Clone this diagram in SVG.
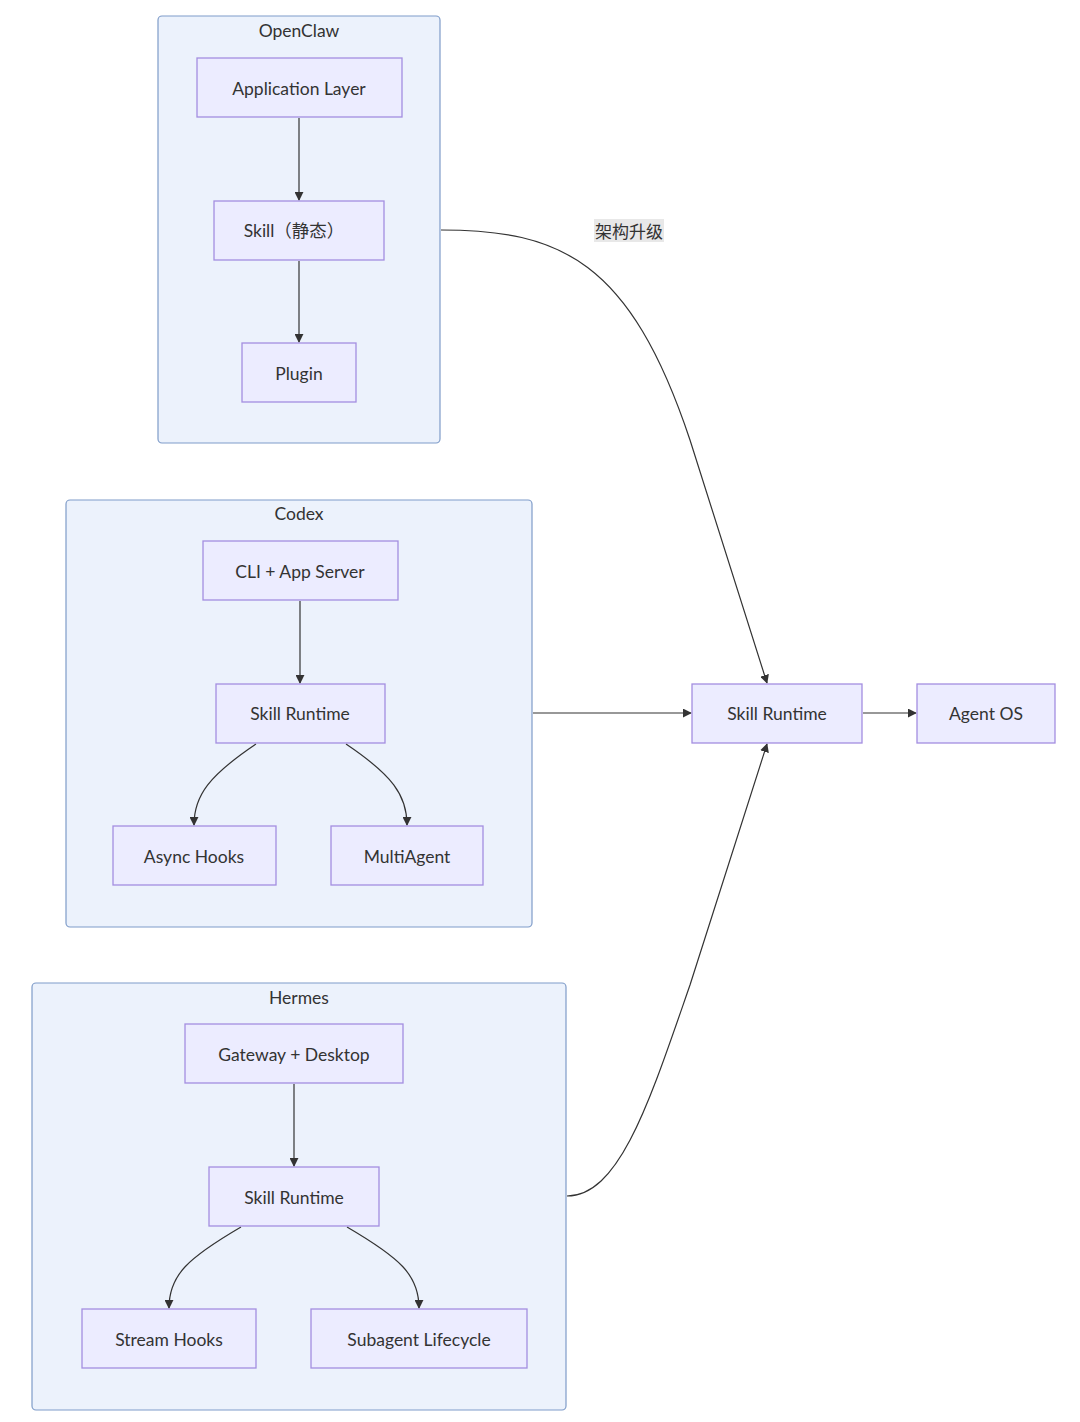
<svg xmlns="http://www.w3.org/2000/svg" width="1080" height="1422" viewBox="0 0 1080 1422">
<style>
.cl{fill:#ecf2fc;stroke:#7f9cc9;stroke-width:1.2}
.nd{fill:#ececff;stroke:#a48ee0;stroke-width:1.3}
.t{font-family:"Lato","Noto Sans",sans-serif;font-size:17.5px;fill:#333;text-anchor:middle;dominant-baseline:central}
.e{fill:none;stroke:#333;stroke-width:1.2}
</style>
<defs>
<marker id="ah" viewBox="0 0 10 10" refX="9" refY="5" markerWidth="9" markerHeight="9" orient="auto-start-reverse" markerUnits="userSpaceOnUse">
<path d="M0,0 L10,5 L0,10 z" fill="#333"/>
</marker>
</defs>
<rect width="1080" height="1422" fill="#fff"/>
<g id="clusters">
<g id="cluster-openclaw"><rect class="cl" x="158" y="16" width="282" height="427" rx="4"/><text class="t" x="299" y="30">OpenClaw</text></g>
<g id="cluster-codex"><rect class="cl" x="66" y="500" width="466" height="427" rx="4"/><text class="t" x="299" y="513">Codex</text></g>
<g id="cluster-hermes"><rect class="cl" x="32" y="983" width="534" height="427" rx="4"/><text class="t" x="299" y="997">Hermes</text></g>
</g>
<g id="connectors">
<path class="e" d="M299,118 L299,200" marker-end="url(#ah)"/>
<path class="e" d="M299,261 L299,342" marker-end="url(#ah)"/>
<path class="e" d="M300,601 L300,683" marker-end="url(#ah)"/>
<path class="e" d="M256,744 C210,775 194,795 194,825" marker-end="url(#ah)"/>
<path class="e" d="M346,744 C392,775 407,795 407,825" marker-end="url(#ah)"/>
<path class="e" d="M294,1084 L294,1166" marker-end="url(#ah)"/>
<path class="e" d="M241,1227 C188,1258 169,1275 169,1308" marker-end="url(#ah)"/>
<path class="e" d="M347,1227 C400,1258 419,1275 419,1308" marker-end="url(#ah)"/>
<path class="e" d="M441,230 C560,230 630,260 690,440 L767,683" marker-end="url(#ah)"/>
<path class="e" d="M533,713 L691,713" marker-end="url(#ah)"/>
<path class="e" d="M567,1196 C620,1196 650,1100 690,985 L767,744" marker-end="url(#ah)"/>
<path class="e" d="M863,713 L916,713" marker-end="url(#ah)"/>
<rect x="594" y="219" width="70" height="23" fill="#e8e8e8"/>
<text class="t" x="629" y="230" style="font-family:'Noto Sans CJK SC',sans-serif;font-size:17px">架构升级</text>
</g>
<g id="n-app"><rect class="nd" x="197" y="58" width="205" height="59"/><text class="t" x="299" y="88">Application Layer</text></g>
<g id="n-skill-static"><rect class="nd" x="214" y="201" width="170" height="59"/><text class="t" x="294" y="230" style="font-family:'Lato','Noto Sans CJK SC',sans-serif">Skill（静态）</text></g>
<g id="n-plugin"><rect class="nd" x="242" y="343" width="114" height="59"/><text class="t" x="299" y="373">Plugin</text></g>
<g id="n-cli"><rect class="nd" x="203" y="541" width="195" height="59"/><text class="t" x="300" y="571">CLI + App Server</text></g>
<g id="n-codex-skill"><rect class="nd" x="216" y="684" width="169" height="59"/><text class="t" x="300" y="713">Skill Runtime</text></g>
<g id="n-async"><rect class="nd" x="113" y="826" width="163" height="59"/><text class="t" x="194" y="856">Async Hooks</text></g>
<g id="n-multi"><rect class="nd" x="331" y="826" width="152" height="59"/><text class="t" x="407" y="856">MultiAgent</text></g>
<g id="n-gateway"><rect class="nd" x="185" y="1024" width="218" height="59"/><text class="t" x="294" y="1054">Gateway + Desktop</text></g>
<g id="n-hermes-skill"><rect class="nd" x="209" y="1167" width="170" height="59"/><text class="t" x="294" y="1197">Skill Runtime</text></g>
<g id="n-stream"><rect class="nd" x="82" y="1309" width="174" height="59"/><text class="t" x="169" y="1339">Stream Hooks</text></g>
<g id="n-subagent"><rect class="nd" x="311" y="1309" width="216" height="59"/><text class="t" x="419" y="1339">Subagent Lifecycle</text></g>
<g id="n-skill-runtime"><rect class="nd" x="692" y="684" width="170" height="59"/><text class="t" x="777" y="713">Skill Runtime</text></g>
<g id="n-agent-os"><rect class="nd" x="917" y="684" width="138" height="59"/><text class="t" x="986" y="713">Agent OS</text></g>
</svg>
